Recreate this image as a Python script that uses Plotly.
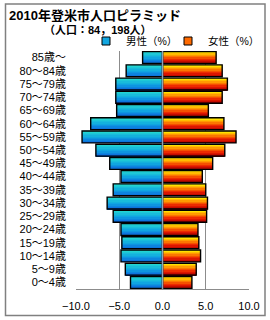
import plotly.graph_objects as go

# ---------------- data ----------------
age_groups = ["0～4歳", "5～9歳", "10～14歳", "15～19歳", "20～24歳", "25～29歳",
              "30～34歳", "35～39歳", "40～44歳", "45～49歳", "50～54歳", "55～59歳",
              "60～64歳", "65～69歳", "70～74歳", "75～79歳", "80～84歳", "85歳～"]
male_pct = [3.7, 4.3, 4.8, 4.7, 4.8, 5.7, 6.4, 5.7, 4.8, 6.1, 7.7, 9.3,
            8.3, 5.3, 5.4, 5.4, 4.2, 2.3]
female_pct = [3.4, 3.9, 4.4, 4.2, 4.1, 5.1, 5.2, 5.0, 4.6, 5.8, 7.2, 8.5,
              7.1, 5.3, 6.9, 7.5, 6.9, 6.2]
x_ticks = [-10, -5, 0, 5, 10]
title_text = "2010年登米市人口ピラミッド"
subtitle_text = "（人口：84，198人）"
male_name = "男性（%）"
female_name = "女性（%）"

# ---------------- layout constants ----------------
W, H = 270, 320
L, R, T, B = 76, 21, 51, 31
PW, PH = W - L - R, H - T - B
FONT = "Liberation Sans, Noto Sans CJK JP"
CJK = "Noto Sans CJK JP"


def px2x(px):
    return (px - L) / PW


def py2y(py):
    return (H - B - py) / PH


def lerp_colors(stops, n):
    out = []
    for i in range(n):
        t = i / (n - 1)
        seg = t * (len(stops) - 1)
        k = min(int(seg), len(stops) - 2)
        f = seg - k
        a, b = stops[k], stops[k + 1]
        c = [round(a[j] + (b[j] - a[j]) * f) for j in range(3)]
        out.append(f"rgb({c[0]},{c[1]},{c[2]})")
    return out


N = 9
BAR_W = 0.9
# bottom -> top
male_cols = lerp_colors([(10, 100, 220), (16, 165, 225), (34, 212, 210)], N)
female_cols = lerp_colors([(170, 0, 0), (235, 30, 0), (255, 130, 0), (255, 225, 0)], N)

neg_male = [-v for v in male_pct]

fig = go.Figure()
for i in range(N):
    off = -BAR_W / 2 + i * BAR_W / N
    fig.add_trace(go.Bar(y=age_groups, x=neg_male, orientation="h",
                         offset=off, width=BAR_W / N + 0.01,
                         marker=dict(color=male_cols[i], line=dict(width=0)),
                         showlegend=False, hoverinfo="skip"))
    fig.add_trace(go.Bar(y=age_groups, x=female_pct, orientation="h",
                         offset=off, width=BAR_W / N + 0.01,
                         marker=dict(color=female_cols[i], line=dict(width=0)),
                         showlegend=False, hoverinfo="skip"))

# outlines
for vals in (neg_male, female_pct):
    fig.add_trace(go.Bar(y=age_groups, x=vals, orientation="h",
                         offset=-BAR_W / 2, width=BAR_W,
                         marker=dict(color="rgba(0,0,0,0)", line=dict(color="black", width=1.4)),
                         showlegend=False, hoverinfo="skip"))

# legend entries
fig.add_trace(go.Scatter(x=[None], y=[None], mode="markers", name=male_name,
                         legend="legend",
                         marker=dict(symbol="square", size=8, color="#12a6e0",
                                     line=dict(color="black", width=1))))
fig.add_trace(go.Scatter(x=[None], y=[None], mode="markers", name=female_name,
                         legend="legend2",
                         marker=dict(symbol="square", size=8, color="#ff6a00",
                                     line=dict(color="black", width=1))))

leg_common = dict(orientation="h", xanchor="left", yanchor="middle", y=py2y(41),
                  font=dict(family=FONT, size=10.5, color="black"),
                  itemsizing="trace", bgcolor="rgba(0,0,0,0)", borderwidth=0,
                  itemclick=False, itemdoubleclick=False, itemwidth=30)

fig.update_layout(
    width=W, height=H,
    margin=dict(l=L, r=R, t=T, b=B, pad=0, autoexpand=False),
    paper_bgcolor="white", plot_bgcolor="white",
    barmode="overlay",
    font=dict(family=FONT, size=10, color="black"),
    legend=dict(x=px2x(111 - 25), **leg_common),
    legend2=dict(x=px2x(193 - 25), **leg_common),
    xaxis=dict(range=[-10, 10], tickvals=x_ticks, tickformat=".1f",
               showgrid=True, gridcolor="#8c8c8c", gridwidth=1,
               zeroline=False, showline=True, linecolor="#8c8c8c", linewidth=1,
               ticks="", ticklabelstandoff=7, fixedrange=True,
               tickfont=dict(family=FONT, size=11, color="black")),
    yaxis=dict(categoryorder="array", categoryarray=age_groups,
               range=[-0.5, len(age_groups) - 0.5],
               showgrid=False, zeroline=False, showline=False,
               ticks="", ticklabelstandoff=9, fixedrange=True,
               tickfont=dict(family=FONT, size=11, color="black")),
    shapes=[
        dict(type="line", xref="x", yref="paper", x0=0, x1=0, y0=0, y1=1,
             line=dict(color="#8fa3b5", width=1.5), layer="above"),
        dict(type="rect", xref="paper", yref="paper",
             x0=px2x(5.5), x1=px2x(265), y0=py2y(315.5), y1=py2y(4),
             line=dict(color="#808080", width=1.5), layer="below"),
    ],
    annotations=[
        dict(text="<b>" + title_text + "</b>", xref="paper", yref="paper",
             x=px2x(7), y=py2y(15), xanchor="left", yanchor="middle", showarrow=False,
             font=dict(family=FONT, size=13, color="black")),
        dict(text="<b>" + subtitle_text + "</b>", xref="paper", yref="paper",
             x=px2x(42), y=py2y(29.5), xanchor="left", yanchor="middle", showarrow=False,
             font=dict(family=FONT, size=11, color="black")),
    ],
)

fig.write_html("out.html", config={"displayModeBar": False})
